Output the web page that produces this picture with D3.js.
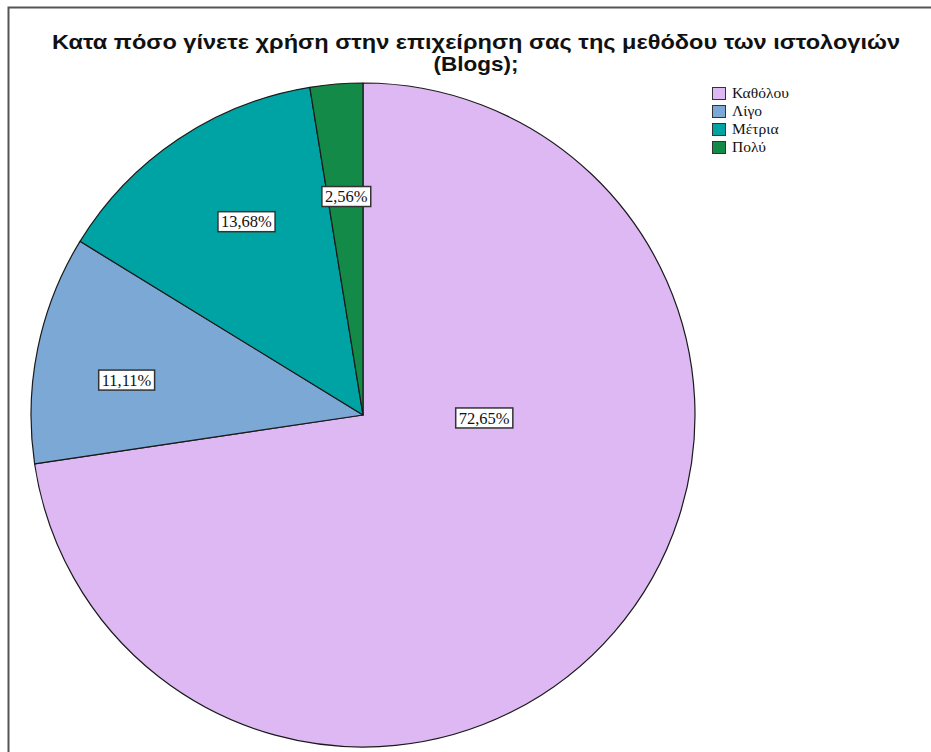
<!DOCTYPE html>
<html><head><meta charset="utf-8">
<script src="https://cdn.jsdelivr.net/npm/d3@7"></script>
<style>html,body{margin:0;padding:0;background:#fff;}svg{display:block;}</style>
</head><body>
<svg id="chart" width="931" height="752"></svg>
<script>
const categories = ["Καθόλου", "Λίγο", "Μέτρια", "Πολύ"];
const values = [72.65, 11.11, 13.68, 2.56];
const valueLabels = ["72,65%", "11,11%", "13,68%", "2,56%"];
const colors = ["#DDB8F3", "#7CA8D6", "#00A3A3", "#138A47"];
const titleLines = ["Κατα πόσο γίνετε χρήση στην επιχείρηση σας της μεθόδου των ιστολογιών", "(Blogs);"];
// label placement layout (angle in degrees from 12 o'clock, radius fraction)
const labelLayout = [{a: 91.4, f: 0.365}, {a: 278.4, f: 0.72}, {a: 328.9, f: 0.68}, {a: 355.6, f: 0.66}];

const svg = d3.select("#chart");
const W = 931, H = 752;
const cx = 363, cy = 415, R = 332;

// frame
svg.append("path").attr("d", `M8.5,${H+5} L8.5,7.5 L${W+5},7.5`)
  .attr("fill", "none").attr("stroke", "#555").attr("stroke-width", 2);

// title
const title = svg.append("g");
titleLines.forEach((t, i) => {
  const tx = title.append("text").attr("x", 476).attr("y", 48.5 + i * 22.5)
    .attr("text-anchor", "middle")
    .attr("font-family", "'Liberation Sans', Arial, sans-serif")
    .attr("font-weight", "bold").attr("font-size", 20.5).attr("fill", "#111").text(t);
  if (i === 0) { tx.attr("textLength", 848).attr("lengthAdjust", "spacingAndGlyphs"); }
  else { tx.attr("textLength", 85).attr("lengthAdjust", "spacingAndGlyphs"); }
});

const data = categories.map((c, i) => ({cat: c, value: values[i], label: valueLabels[i], color: colors[i], lay: labelLayout[i]}));
const pie = d3.pie().value(d => d.value).sort(null);
const arc = d3.arc().innerRadius(0).outerRadius(R);
const arcs = pie(data);

const g = svg.append("g").attr("transform", `translate(${cx},${cy})`);
g.selectAll("path.slice").data(arcs).enter().append("path")
  .attr("class", "slice").attr("d", arc)
  .attr("fill", d => d.data.color).attr("stroke", "#1a1a1a").attr("stroke-width", 1.2)
  .attr("stroke-linejoin", "round");

// labels
arcs.forEach(d => {
  const ang = d.data.lay.a * Math.PI / 180;
  const rr = d.data.lay.f * R;
  const x = rr * Math.sin(ang), y = -rr * Math.cos(ang);
  const lg = g.append("g").attr("transform", `translate(${x},${y})`);
  const t = lg.append("text").attr("text-anchor", "middle").attr("dy", "0.35em")
    .attr("font-family", "'Liberation Serif', 'Times New Roman', serif").attr("font-size", 16.5)
    .attr("fill", "#111").text(d.data.label);
  const bb = t.node().getBBox();
  lg.insert("rect", "text").attr("x", bb.x - 3).attr("y", -10).attr("width", bb.width + 6).attr("height", 20)
    .attr("fill", "#fff").attr("stroke", "#333").attr("stroke-width", 1.5);
});

// legend
const lgd = svg.append("g").attr("transform", "translate(712,87)");
data.forEach((d, i) => {
  const row = lgd.append("g").attr("transform", `translate(0,${i * 18})`);
  row.append("rect").attr("x", 0.5).attr("y", 0.5).attr("width", 13).attr("height", 12)
    .attr("fill", d.color).attr("stroke", "#333").attr("stroke-width", 1);
  row.append("text").attr("x", 20).attr("y", 11)
    .attr("font-family", "'Liberation Serif', 'Times New Roman', serif").attr("font-size", 15.5)
    .attr("fill", "#111").text(d.cat);
});
</script>
</body></html>
